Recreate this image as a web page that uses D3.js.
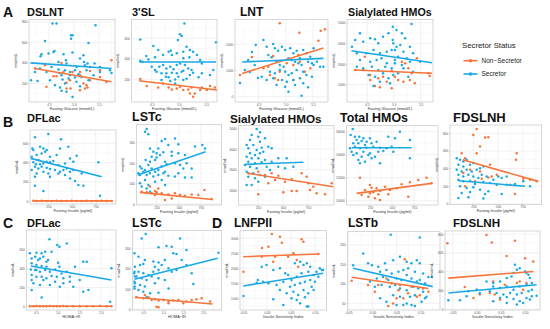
<!DOCTYPE html>
<html><head><meta charset="utf-8">
<script src="https://cdn.jsdelivr.net/npm/d3@7"></script>
<style>html,body{margin:0;padding:0;background:#fff}svg{display:block}</style>
</head><body>
<svg id="chart" width="550" height="329"></svg>
<script>
// ---------- DATA ----------
const statusLabels = ["Non\u2212Secretor", "Secretor"];
const glucoseTicks = [4.5, 5.0, 5.5];
const insulinTicks = [250, 500, 750];
const homaTicks = [0.5, 1.0, 1.5, 2.0];
const isiTicks = [-0.05, 0.00, 0.05, 0.10];

// A: Fasting glucose
const dslntSec = [[4.57,784],[4.65,784],[5.43,767],[4.42,614],[4.94,670],[4.97,670],[4.94,637],[5.29,595],[4.59,507],[4.61,517],[4.35,485],[4.33,465],[4.79,485],[4.97,501],[5.19,475],[4.49,491],[4.69,410],[4.84,426],[4.85,394],[5.12,442],[5.20,410],[5.22,377],[5.27,394],[5.32,361],[5.41,394],[5.52,361],[4.32,345],[4.55,361],[4.69,335],[4.82,328],[5.02,328],[5.05,361],[4.92,312],[4.71,302],[4.75,280],[5.09,289],[4.92,280],[5.02,257],[4.77,237],[4.89,247],[5.15,263],[5.39,280],[5.72,328],[5.75,302],[4.52,231],[4.82,198],[5.05,215],[4.62,182],[4.72,160],[5.12,172],[5.29,231],[4.14,231],[4.27,224],[4.85,117],[4.75,127],[4.97,68],[5.52,312],[4.22,312],[4.45,312],[5.25,328]];
const dslntNon = [[4.22,345],[4.42,377],[4.75,400],[4.97,312],[5.12,312],[5.12,280],[5.32,322],[5.52,328],[5.75,426],[4.92,231],[5.19,198],[5.25,182],[4.85,205],[4.93,150],[5.12,134],[5.22,150],[5.27,160],[4.65,270],[5.32,231],[5.52,263],[5.65,215],[4.45,166],[4.85,150],[4.59,270],[4.79,312]];
const dslntFitSec = [4.13,400,5.75,345];
const dslntFitNon = [4.22,345,5.75,215];
const dslntYTicks = [200,400,600,800];

const sl3Sec = [[5.10,745],[4.29,589],[4.53,524],[5.02,638],[5.05,622],[4.98,583],[5.14,518],[5.20,485],[5.68,560],[4.62,485],[4.81,469],[4.85,479],[5.08,469],[4.96,453],[5.26,469],[4.40,427],[4.56,414],[4.71,437],[4.87,437],[4.29,381],[4.33,371],[4.44,394],[5.08,404],[5.19,414],[5.33,437],[5.39,388],[5.42,355],[4.50,323],[4.56,290],[4.64,323],[4.71,339],[4.77,306],[4.84,323],[4.90,297],[4.96,339],[5.02,355],[5.11,339],[5.17,306],[5.23,290],[4.59,274],[4.68,258],[4.77,258],[4.87,264],[4.96,258],[5.05,274],[5.08,284],[5.20,241],[5.26,264],[4.76,225],[4.81,219],[4.93,199],[4.99,225],[5.08,193],[5.14,206],[5.36,219],[5.42,258],[5.57,241],[5.63,290],[4.68,193],[4.84,183],[4.93,160]];
const sl3Non = [[4.29,202],[4.41,134],[4.62,121],[4.71,160],[4.81,121],[4.87,101],[4.96,111],[5.02,128],[5.08,95],[5.17,101],[5.26,30],[5.29,62],[5.39,95],[5.42,121],[5.57,134],[5.66,121],[5.20,62],[5.23,121],[5.51,95]];
const sl3FitSec = [4.27,368,5.68,368];
const sl3FitNon = [4.27,186,5.70,95];
const sl3YTicks = [200,400,600];

const lntSec = [[4.59,2151],[4.65,1898],[4.77,2000],[4.80,1835],[4.86,1746],[4.93,1898],[4.99,1772],[5.08,1835],[5.14,1645],[5.20,1746],[5.32,1772],[5.38,1645],[5.45,1519],[5.51,1835],[5.26,1455],[4.68,1582],[4.74,1493],[4.83,1329],[5.05,1455],[5.11,1392],[5.17,1329],[4.89,1202],[4.96,1139],[5.23,1266],[5.29,1202],[5.41,1329],[5.48,1266],[5.51,1202],[5.57,1329],[5.63,1139],[4.71,949],[4.80,886],[4.89,1013],[4.99,949],[5.05,823],[5.11,886],[5.20,1013],[5.32,949],[5.38,823],[4.56,760],[4.65,633],[4.77,696],[4.93,633],[5.02,570],[5.14,633],[5.26,696],[5.48,760],[5.69,1139],[4.83,443],[4.99,380],[5.17,443],[5.32,507],[5.05,190],[5.29,38],[5.41,355],[4.16,521],[4.31,1393],[4.38,1696],[4.45,1962],[4.25,1013],[4.34,937],[4.43,1203],[4.49,710]];
const lntNon = [[4.89,2784],[5.25,2429],[5.64,2505],[5.72,2556],[5.60,2126],[4.77,1544],[5.02,1266],[5.14,1202],[5.23,1582],[5.26,1329],[4.89,949],[4.80,696],[4.86,633],[5.14,633],[4.59,1076],[4.68,1139],[5.35,949],[5.45,1076],[4.71,823],[4.16,823],[4.38,1507]];
const lntFitSec = [4.20,1317,5.69,1455];
const lntFitNon = [4.20,880,5.69,1850];
const lntYTicks = [0,1000,2000];

const sialASec = [[4.37,4486],[4.28,4163],[4.22,3841],[4.43,4083],[4.56,4244],[4.65,4196],[4.71,4002],[4.80,4325],[4.90,4486],[4.98,4163],[4.31,3518],[4.49,3518],[4.62,3680],[4.74,3518],[4.87,3599],[4.96,3680],[5.05,3841],[4.37,3196],[4.56,3115],[4.68,3196],[4.77,3276],[4.87,3034],[5.02,3196],[4.31,2873],[4.43,2792],[4.59,2873],[4.71,2712],[4.84,2873],[4.96,2792],[4.53,2470],[4.65,2389],[4.80,2550],[4.90,2308],[4.99,2470],[4.74,2147],[4.62,1937],[4.93,2066],[5.33,4938],[5.15,4486],[5.21,4244],[5.12,3921],[5.30,3841],[5.18,3599],[5.36,3518],[5.24,3276],[5.15,2954],[5.30,3115],[5.49,3115],[5.18,2792],[5.27,2389],[5.36,2631],[4.98,4809],[5.05,4647],[4.99,4002],[5.02,3680],[5.08,3357],[5.02,3034],[5.08,2550]];
const sialANon = [[4.28,2712],[4.43,2712],[4.56,2470],[4.71,2308],[4.87,2147],[4.80,2389],[4.65,1937],[4.56,2228],[4.96,2679],[5.02,2389],[4.46,3357],[4.74,1873],[5.15,3115],[5.21,3034],[5.27,2792],[5.33,2550],[5.08,2228],[5.18,2147],[5.30,2228],[5.39,2066],[4.96,1825],[5.43,3276],[5.67,2421],[5.64,2550]];
const sialAFitSec = [4.21,3645,5.71,3064];
const sialAFitNon = [4.27,2711,5.71,2551];
const sialYTicks = [2000,3000,4000,5000];

// B: Fasting insulin
const dflacBSec = [[250,696],[110,662],[384,641],[82,547],[92,530],[163,565],[198,547],[233,530],[75,461],[127,478],[180,495],[215,513],[268,461],[338,478],[374,547],[461,565],[549,471],[145,426],[92,402],[120,381],[163,381],[198,391],[233,409],[268,402],[303,416],[356,374],[426,391],[479,443],[514,409],[110,357],[145,339],[180,357],[233,346],[268,332],[321,322],[374,305],[409,322],[444,339],[479,305],[514,322],[127,287],[198,305],[250,287],[356,287],[426,270],[602,287],[110,253],[268,253],[479,235],[532,208],[110,159],[620,159],[567,166],[198,104],[778,402],[796,55],[75,322]];
const dflacBNon = [[92,2],[127,0],[180,3],[233,1],[286,0],[338,2],[391,1],[444,0],[497,3],[549,1],[602,0],[655,2],[708,1],[760,0],[813,2],[866,1],[919,0]];
const dflacBFitSec = [64,443,813,253];
const dflacBFitNon = [92,1,919,1];
const dflacYTicks = [0,200,400,600];

const lstcBSec = [[137,367],[118,354],[155,341],[306,308],[344,318],[456,321],[381,289],[494,292],[174,272],[268,272],[212,256],[249,248],[325,253],[419,256],[682,281],[765,289],[193,231],[249,227],[287,240],[419,236],[494,248],[569,240],[125,215],[174,207],[231,215],[344,207],[61,183],[80,174],[118,166],[155,191],[193,174],[231,158],[268,166],[306,183],[362,194],[456,199],[513,191],[550,174],[588,199],[645,174],[43,150],[99,158],[137,142],[174,150],[212,134],[268,142],[325,150],[381,138],[456,134],[494,150],[344,158],[61,101],[118,117],[155,93],[231,109],[80,85],[306,117],[569,129],[645,129],[344,93],[795,272],[61,142],[137,76],[174,60]];
const lstcBNon = [[80,60],[137,57],[193,52],[249,57],[231,44],[306,52],[381,47],[456,52],[513,44],[569,40],[645,47],[720,44],[788,68],[174,85],[231,63],[419,27],[344,19],[870,24],[268,76]];
const lstcBFitSec = [35,142,803,256];
const lstcBFitNon = [61,57,878,22];
const lstcYTicks = [0,100,200,300];

const sialBSec = [[237,4967],[270,4805],[187,4676],[253,4596],[170,4434],[270,4354],[320,4515],[137,4192],[203,4192],[153,4031],[237,3951],[287,4063],[353,4112],[387,4031],[170,3789],[220,3709],[270,3789],[303,3870],[137,3628],[187,3547],[253,3547],[320,3467],[453,3547],[537,3547],[153,3386],[220,3305],[287,3354],[387,3386],[120,3225],[170,3144],[237,3063],[337,3144],[453,3144],[520,3063],[603,3144],[137,2902],[203,2821],[270,2741],[153,2660],[220,2579],[187,2257],[320,2660],[370,2983],[253,2418],[137,2257]];
const sialBNon = [[153,2821],[253,2902],[320,2741],[387,2821],[453,2708],[420,2499],[520,2418],[353,2338],[587,2547],[687,2821],[737,2660],[753,2338],[587,1967],[637,1967],[503,1902],[770,2015],[803,2176],[837,1854],[987,2338],[920,1805],[253,1805]];
const sialBFitSec = [120,3257,703,3354];
const sialBFitNon = [153,2821,1003,2176];

const totalSec = [[53,16235],[30,15713],[79,15568],[128,15568],[174,15423],[98,15278],[155,15191],[212,15133],[249,15423],[60,14988],[117,14988],[193,14843],[268,14988],[325,15133],[458,15568],[590,16003],[533,15423],[704,15278],[22,14553],[79,14698],[136,14553],[212,14611],[287,14698],[363,14611],[439,14553],[496,14698],[41,14263],[98,14118],[174,14263],[249,14118],[344,14263],[401,14321],[515,14263],[60,13973],[155,13829],[231,13973],[306,13829],[117,13539],[193,13394],[363,13249],[136,13249],[704,13684],[268,13684]];
const totalNon = [[136,12002],[193,10929],[249,11364],[268,11132],[325,11074],[287,10727],[363,10842],[420,11219],[477,10929],[552,11074],[609,11422],[704,11596],[799,11799],[893,12002],[950,11509],[155,10495],[231,10350],[306,10205],[363,10060],[458,10553],[685,10350],[249,10640],[344,10553]];
const totalFitSec = [41,14611,723,14611];
const totalFitNon = [98,10640,950,11509];
const totalYTicks = [10000,12000,14000,16000];

const fdslnhBNon = [[284,849],[250,781],[369,751],[402,755],[318,649],[132,574],[284,574],[166,518],[217,386],[149,349],[419,443],[318,368],[402,300],[335,285],[267,255],[166,199],[689,574],[682,499],[672,112],[756,285],[824,274],[891,255],[622,217],[487,330],[436,311]];
const fdslnhBSec = [[82,518],[116,499],[149,480],[183,499],[99,443],[149,424],[217,443],[250,462],[82,386],[132,368],[183,386],[234,368],[284,386],[318,405],[352,424],[99,330],[149,311],[200,330],[250,311],[301,292],[335,330],[385,311],[453,274],[503,311],[537,292],[588,311],[99,274],[149,255],[217,262],[267,225],[352,247],[419,236],[487,217],[116,199],[183,180],[250,187],[318,161],[132,123],[217,135],[369,112],[99,67],[200,75],[352,60],[537,112],[402,142],[588,217],[756,255],[672,225],[824,199]];
const fdslnhBFitSec = [99,262,773,199];
const fdslnhBFitNon = [143,499,908,255];
const fdslnhYTicks = [0,200,400,600,800];

// C: HOMA-IR
const dflacCSec = [[0.81,704],[0.99,645],[1.04,627],[1.21,662],[0.36,558],[0.51,565],[0.63,558],[0.71,575],[0.86,575],[0.40,505],[0.48,523],[0.55,488],[0.59,505],[0.67,523],[0.74,470],[1.01,460],[1.59,470],[0.40,453],[0.51,436],[0.63,425],[0.74,418],[1.04,418],[1.40,418],[1.67,470],[0.38,390],[0.48,383],[0.59,366],[0.71,383],[0.82,366],[0.94,390],[1.09,348],[1.21,366],[0.40,331],[0.51,313],[0.63,313],[0.74,296],[0.86,320],[0.98,313],[1.13,296],[1.28,313],[0.40,279],[0.67,279],[0.94,261],[1.13,244],[1.28,261],[1.51,279],[0.44,244],[0.59,226],[0.82,226],[1.05,209],[1.36,209],[0.40,174],[1.59,156],[1.71,174],[0.63,97],[2.21,52],[2.24,401],[0.51,383],[0.78,488]];
const dflacCNon = [[0.36,5],[0.44,4],[0.51,6],[0.59,5],[0.67,3],[0.74,5],[0.82,6],[0.90,4],[0.98,5],[1.05,3],[1.13,6],[1.21,4],[1.36,5],[1.51,3],[1.67,5],[1.82,4],[1.98,6],[2.13,5],[2.24,4]];
const dflacCFitSec = [0.38,425,2.24,279];
const dflacCFitNon = [0.36,5,2.24,5];

const lstcCSec = [[0.56,371],[0.46,349],[1.21,308],[0.88,305],[1.08,312],[1.42,349],[1.25,276],[1.33,272],[1.58,292],[0.28,276],[0.38,259],[0.54,243],[0.75,235],[0.88,230],[1.04,243],[1.46,243],[0.42,218],[0.50,223],[0.29,210],[0.79,210],[0.96,218],[1.13,202],[1.33,194],[1.58,218],[0.28,185],[0.27,177],[0.38,185],[0.50,177],[0.63,169],[0.75,185],[0.88,194],[1.21,185],[1.71,177],[0.33,161],[0.46,153],[0.58,144],[0.71,161],[0.88,153],[1.04,144],[1.75,125],[0.28,136],[0.29,128],[0.42,120],[0.54,112],[0.79,128],[0.38,95],[0.28,103],[0.50,87],[0.67,79],[0.88,82],[0.28,112],[2.38,279],[1.13,103],[0.58,59],[0.29,161]];
const lstcCNon = [[0.33,59],[0.50,54],[0.63,59],[0.71,46],[0.79,49],[0.88,43],[1.00,46],[1.13,38],[1.25,43],[1.38,46],[1.50,30],[1.58,38],[1.71,46],[1.83,49],[2.17,38],[0.88,10],[0.83,13],[0.54,71],[1.13,30],[1.96,54]];
const lstcCFitSec = [0.28,148,2.36,251];
const lstcCFitNon = [0.29,59,2.23,26];

// D: Insulin sensitivity index
const lnfpiiNon = [[0.010,3143],[0.027,3054],[0.031,2854],[0.003,2721],[0.017,2388],[0.055,2499],[0.072,2965],[0.076,2888],[0.062,2277],[0.065,2055],[0.044,2388],[0.107,2477],[-0.011,2388],[0.013,2222],[-0.049,1888],[-0.0104,2677]];
const lnfpiiSec = [[-0.011,2055],[-0.001,2110],[0.013,1944],[0.027,2000],[0.038,1833],[0.044,1777],[0.058,2166],[0.069,2222],[0.076,2110],[0.083,2166],[0.090,2055],[0.051,1611],[0.062,1722],[0.072,1833],[0.086,1888],[0.097,1777],[0.103,1888],[0.114,1944],[-0.008,1555],[0.003,1500],[0.020,1444],[0.034,1555],[0.048,1389],[0.058,1444],[0.069,1500],[0.079,1555],[0.090,1611],[0.100,1555],[0.027,1278],[0.041,1167],[0.055,1222],[0.065,1111],[0.076,1278],[0.086,1167],[0.097,1278],[0.013,967],[0.051,1000],[0.062,945],[0.069,834],[0.079,1034],[0.034,778],[0.083,723],[0.086,723],[0.093,1389],[0.107,1722],[0.110,2000],[0.117,1944],[-0.049,1079],[-0.0215,1521],[-0.019,1611]];
const lnfpiiFitSec = [-0.0494,1412,0.1173,1835];
const lnfpiiFitNon = [-0.0494,2387,0.109,2477];
const lnfpiiYTicks = [1000,1500,2000,2500,3000];

const lstbSec = [[0.038,226],[0.098,219],[-0.019,178],[-0.009,153],[-0.001,148],[0.012,144],[0.026,153],[0.043,161],[0.057,170],[0.071,157],[0.081,153],[0.092,161],[0.098,153],[0.016,131],[0.029,136],[0.040,127],[0.054,131],[0.064,136],[0.074,140],[0.088,131],[0.105,127],[0.116,118],[0.123,118],[-0.040,148],[0.009,114],[0.022,118],[0.033,110],[0.050,114],[0.060,110],[0.071,123],[0.081,114],[0.092,106],[0.098,110],[0.109,101],[-0.005,106],[0.005,93],[0.019,97],[0.036,93],[0.047,97],[0.057,88],[0.071,84],[0.085,93],[0.095,88],[0.105,80],[0.112,67],[0.109,63],[0.043,71],[0.057,67],[0.078,67],[0.088,71],[0.102,54],[0.071,50],[0.081,46],[0.088,43],[0.064,46],[0.029,54],[0.016,63],[0.050,46]];
const lstbNon = [[-0.043,108],[-0.009,97],[0.005,80],[0.040,101],[0.057,97],[0.064,63],[0.033,43],[0.043,50],[0.050,63],[0.074,76],[0.092,67],[0.098,71],[0.105,88],[0.116,80],[0.067,163],[0.029,114],[0.012,97],[0.081,93],[0.054,84]];
const lstbFitSec = [-0.040,140,0.125,93];
const lstbFitNon = [-0.043,117,0.116,88];
const lstbYTicks = [50,100,150,200];

const fdslnhDNon = [[-0.061,702],[0.020,789],[0.031,709],[0.079,730],[0.062,568],[0.100,544],[0.117,509],[-0.025,238],[0.0,210],[0.027,175],[0.037,158],[0.058,263],[0.083,280],[0.089,298],[0.103,280],[-0.007,123],[0.048,105],[0.096,210],[0.006,158],[0.034,298]];
const fdslnhDSec = [[-0.059,98],[-0.035,98],[-0.021,140],[0.0,210],[0.020,298],[0.034,280],[0.048,298],[0.062,333],[0.076,386],[0.083,421],[0.089,438],[0.100,403],[0.107,368],[0.110,333],[0.034,245],[0.048,228],[0.062,245],[0.076,210],[0.089,245],[0.103,263],[0.114,280],[0.006,175],[0.027,193],[0.041,175],[0.055,158],[0.069,175],[0.083,158],[0.093,175],[0.107,193],[0.114,210],[0.048,123],[0.062,133],[0.076,112],[0.089,87],[0.103,123],[0.114,140],[0.034,87],[0.062,70],[0.083,52],[0.096,70],[0.110,105],[0.124,147],[0.072,351],[-0.018,193],[0.079,474],[0.103,386]];
const fdslnhDFitSec = [-0.059,175,0.124,263];
const fdslnhDFitNon = [-0.059,333,0.117,403];

// ---------- STYLE / LAYOUT ----------
const colNon = "#F7743A", colSec = "#1AA9E6";
const FONT = "'Liberation Sans', Arial, Helvetica, sans-serif";
const fmt1 = d => d.toFixed(1);
const fmt0 = d => String(d);
const fmtIsi = d => (d < 0 ? "-" : "") + Math.abs(d).toFixed(2);
const xlabGlu = "Fasting Glucose (mmol/L)", xlabIns = "Fasting Insulin (pg/ml)", xlabHoma = "HOMA\u2212IR", xlabIsi = "Insulin Sensitivity Index";

const panels = [
 {title:"DSLNT", fs:11, tx:27, ty:16, rect:[29,19.3,115,102], xd:[4.1,5.82], yd:[18,826], xt:glucoseTicks, xf:fmt1, yt:dslntYTicks, xl:xlabGlu, sec:dslntSec, non:dslntNon, fs1:dslntFitSec, fn:dslntFitNon},
 {title:"3'SL", fs:11, tx:132, ty:16, rect:[131.7,19.3,217,102], xd:[4.133,5.698], yd:[-21.5,785], xt:glucoseTicks, xf:fmt1, yt:sl3YTicks, xl:xlabGlu, sec:sl3Sec, non:sl3Non, fs1:sl3FitSec, fn:sl3FitNon},
 {title:"LNT", fs:12, tx:240, ty:16, rect:[235,19.3,328,102], xd:[4.069,5.775], yd:[-201,2937], xt:glucoseTicks, xf:fmt1, yt:lntYTicks, xl:xlabGlu, sec:lntSec, non:lntNon, fs1:lntFitSec, fn:lntFitNon},
 {title:"Sialylated HMOs", fs:10.7, tx:348, ty:16, rect:[347,19.3,433,102], xd:[4.128,5.73], yd:[1163,5165], xt:glucoseTicks, xf:fmt1, yt:sialYTicks, xl:xlabGlu, sec:sialASec, non:sialANon, fs1:sialAFitSec, fn:sialAFitNon},
 {title:"DFLac", fs:11, tx:27, ty:122, rect:[30,130,116,204], xd:[57,964], yd:[-31,738], xt:insulinTicks, xf:fmt0, yt:dflacYTicks, xl:xlabIns, sec:dflacBSec, non:dflacBNon, fs1:dflacBFitSec, fn:dflacBFitNon},
 {title:"LSTc", fs:12.5, tx:132, ty:121, rect:[136.7,124.3,221.7,205], xd:[24,984], yd:[-5,390], xt:insulinTicks, xf:fmt0, yt:lstcYTicks, xl:xlabIns, sec:lstcBSec, non:lstcBNon, fs1:lstcBFitSec, fn:lstcBFitNon},
 {title:"Sialylated HMOs", fs:11.7, tx:230, ty:123, rect:[238.3,125.7,334,205], xd:[53,1010], yd:[1289,5126], xt:insulinTicks, xf:fmt0, yt:sialYTicks, xl:xlabIns, sec:sialBSec, non:sialBNon, fs1:sialBFitSec, fn:sialBFitNon},
 {title:"Total HMOs", fs:12.4, tx:340, ty:122, rect:[346.7,125.7,438,205], xd:[-15,1023], yd:[9626,16522], xt:insulinTicks, xf:fmt0, yt:totalYTicks, xl:xlabIns, sec:totalSec, non:totalNon, fs1:totalFitSec, fn:totalFitNon},
 {title:"FDSLNH", fs:13, tx:453, ty:122, rect:[450,125,541.7,204.3], xd:[14,942], yd:[-5,894], xt:insulinTicks, xf:fmt0, yt:fdslnhYTicks, xl:xlabIns, sec:fdslnhBSec, non:fdslnhBNon, fs1:fdslnhBFitSec, fn:fdslnhBFitNon},
 {title:"DFLac", fs:11, tx:27, ty:227, rect:[26.7,230,116,310], xd:[0.285,2.346], yd:[-35,802], xt:homaTicks, xf:fmt1, yt:dflacYTicks, xl:xlabHoma, sec:dflacCSec, non:dflacCNon, fs1:dflacCFitSec, fn:dflacCFitNon},
 {title:"LSTc", fs:12.5, tx:132, ty:227, rect:[132.3,230.7,221.7,310], xd:[0.225,2.46], yd:[-3.4,387], xt:homaTicks, xf:fmt1, yt:lstcYTicks, xl:xlabHoma, sec:lstcCSec, non:lstcCNon, fs1:lstcCFitSec, fn:lstcCFitNon},
 {title:"LNFPII", fs:12, tx:234, ty:227, rect:[240,230.7,326.7,310], xd:[-0.0563,0.1244], yd:[610,3253], xt:isiTicks, xf:fmtIsi, yt:lnfpiiYTicks, xl:xlabIsi, sec:lnfpiiSec, non:lnfpiiNon, fs1:lnfpiiFitSec, fn:lnfpiiFitNon},
 {title:"LSTb", fs:12, tx:348, ty:227, rect:[347.3,231.7,440,310], xd:[-0.052,0.140], yd:[33,234], xt:isiTicks, xf:fmtIsi, yt:lstbYTicks, xl:xlabIsi, sec:lstbSec, non:lstbNon, fs1:lstbFitSec, fn:lstbFitNon},
 {title:"FDSLNH", fs:11.6, tx:453, ty:227, rect:[445,231,540,310], xd:[-0.066,0.131], yd:[-5,832], xt:isiTicks, xf:fmtIsi, yt:fdslnhYTicks, xl:xlabIsi, sec:fdslnhDSec, non:fdslnhDNon, fs1:fdslnhDFitSec, fn:fdslnhDFitNon}
];
const letters = [["A",3,17],["B",3,127],["C",3,228],["D",212,228]];

// ---------- DRAW ----------
const svg = d3.select("#chart");
svg.append("rect").attr("width",550).attr("height",329).attr("fill","#fff");

function minors(ticks, dom){
  const step = ticks.length > 1 ? ticks[1]-ticks[0] : 1;
  const out = [];
  const lo = Math.min(dom[0],dom[1]), hi = Math.max(dom[0],dom[1]);
  for (let v = ticks[0] - step/2; v >= lo; v -= step) out.push(v);
  for (let v = ticks[0] + step/2; v <= hi; v += step) out.push(v);
  return out;
}

panels.forEach((p, i) => {
  const [l,t,r,b] = p.rect;
  const x = d3.scaleLinear().domain(p.xd).range([l,r]);
  const y = d3.scaleLinear().domain(p.yd).range([b,t]);
  const g = svg.append("g");
  g.append("rect").attr("x",l).attr("y",t).attr("width",r-l).attr("height",b-t).attr("fill","#fff");
  const clipId = "clip" + i;
  svg.append("clipPath").attr("id",clipId).append("rect").attr("x",l).attr("y",t).attr("width",r-l).attr("height",b-t);
  const grid = g.append("g").attr("clip-path",`url(#${clipId})`);
  minors(p.xt, p.xd).forEach(v => grid.append("line").attr("x1",x(v)).attr("x2",x(v)).attr("y1",t).attr("y2",b).attr("stroke","#f1f1f1").attr("stroke-width",0.35));
  minors(p.yt, p.yd).forEach(v => grid.append("line").attr("y1",y(v)).attr("y2",y(v)).attr("x1",l).attr("x2",r).attr("stroke","#f1f1f1").attr("stroke-width",0.35));
  p.xt.forEach(v => grid.append("line").attr("x1",x(v)).attr("x2",x(v)).attr("y1",t).attr("y2",b).attr("stroke","#e4e4e4").attr("stroke-width",0.5));
  p.yt.forEach(v => grid.append("line").attr("y1",y(v)).attr("y2",y(v)).attr("x1",l).attr("x2",r).attr("stroke","#e4e4e4").attr("stroke-width",0.5));
  const xa = d3.axisBottom(x).tickValues(p.xt).tickFormat(p.xf).tickSize(1).tickPadding(0.5);
  const ya = d3.axisLeft(y).tickValues(p.yt).tickFormat(fmt0).tickSize(1).tickPadding(0.8);
  const gx = g.append("g").attr("transform",`translate(0,${b})`).call(xa);
  const gy = g.append("g").attr("transform",`translate(${l},0)`).call(ya);
  [gx,gy].forEach(a => {
    a.select(".domain").remove();
    a.selectAll("line").attr("stroke","#a8a8a8").attr("stroke-width",0.4);
    a.selectAll("text").attr("fill","#555").style("font-size","3.2px").style("font-family",FONT);
  });
  const pts = g.append("g");
  pts.selectAll(".n").data(p.non).enter().append("circle").attr("cx",d=>x(d[0])).attr("cy",d=>y(d[1])).attr("r",1.25).attr("fill",colNon);
  pts.selectAll(".s").data(p.sec).enter().append("circle").attr("cx",d=>x(d[0])).attr("cy",d=>y(d[1])).attr("r",1.25).attr("fill",colSec);
  [[p.fn,colNon],[p.fs1,colSec]].forEach(([f,c]) => {
    g.append("line").attr("x1",x(f[0])).attr("y1",y(f[1])).attr("x2",x(f[2])).attr("y2",y(f[3])).attr("stroke",c).attr("stroke-width",1.6);
  });
  g.append("rect").attr("x",l).attr("y",t).attr("width",r-l).attr("height",b-t).attr("fill","none").attr("stroke","#bdbdbd").attr("stroke-width",0.6);
  g.append("text").attr("x",(l+r)/2).attr("y",b+8).attr("text-anchor","middle").attr("fill","#333").style("font-size","3.9px").style("font-family",FONT).text(p.xl);
  g.append("text").attr("transform",`translate(${l-12.5},${(t+b)/2}) rotate(-90)`).attr("text-anchor","middle").attr("fill","#333").style("font-size","3.8px").style("font-family",FONT).text("nmol/mL");
  g.append("text").attr("x",p.tx).attr("y",p.ty).attr("fill","#111").style("font-size",p.fs+"px").style("font-weight","bold").style("font-family",FONT).text(p.title);
});

letters.forEach(([s,lx,ly]) => svg.append("text").attr("x",lx).attr("y",ly).attr("fill","#111").style("font-size","14px").style("font-weight","bold").style("font-family",FONT).text(s));

const lg = svg.append("g");
lg.append("text").attr("x",462).attr("y",48).attr("fill","#222").style("font-size","7.8px").style("font-family",FONT).text("Secretor Status");
[[colNon,60.7,statusLabels[0]],[colSec,74,statusLabels[1]]].forEach(([c,yy,lab]) => {
  lg.append("line").attr("x1",463.5).attr("x2",477.5).attr("y1",yy).attr("y2",yy).attr("stroke",c).attr("stroke-width",1.6);
  lg.append("circle").attr("cx",470.5).attr("cy",yy).attr("r",1.8).attr("fill",c);
  lg.append("text").attr("x",481.5).attr("y",yy+2.3).attr("fill","#222").style("font-size","6.5px").style("font-family",FONT).text(lab);
});
</script>
</body></html>
